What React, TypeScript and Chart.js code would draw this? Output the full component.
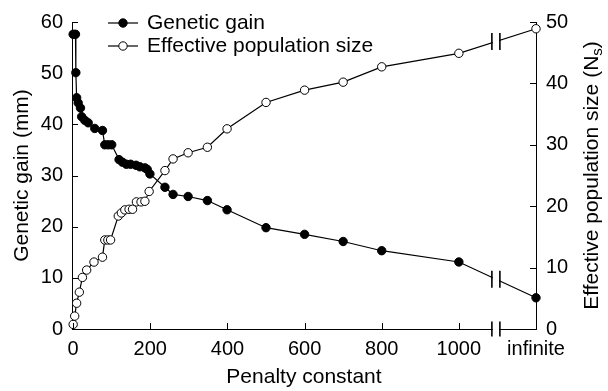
import React, { useEffect, useRef } from 'react';
import { Chart, registerables } from 'chart.js';

Chart.register(...registerables);

const FONT = "'Liberation Sans', Arial, Helvetica, sans-serif";

// x position used for the "infinite" penalty, and where the axis break sits
const INF = 1200;
const BREAK_AT = 1096;

const xTickValues = [0, 200, 400, 600, 800, 1000, INF];
const xTickLabels = ['0', '200', '400', '600', '800', '1000', 'infinite'];
const gainTicks = [0, 10, 20, 30, 40, 50, 60];
const nsTicks = [0, 10, 20, 30, 40, 50];

const seriesLabels = ['Genetic gain', 'Effective population size'];

const gainPenalty = [0, 6, 7, 9, 13, 19, 22, 30, 39, 56, 76, 82, 91, 100, 119, 128, 138, 149, 163, 173, 186, 192, 199, 238, 259, 298, 348, 399, 500, 600, 700, 800, 1000, INF];
const gainValues = [57.6, 57.6, 50.1, 45.2, 44.2, 43.2, 41.5, 40.8, 40.3, 39.2, 38.8, 36.0, 36.0, 36.0, 33.1, 32.6, 32.2, 32.2, 32.0, 31.7, 31.5, 31.2, 30.3, 27.7, 26.3, 25.9, 25.1, 23.3, 19.8, 18.5, 17.1, 15.3, 13.1, 6.1];

const nsPenalty = [0, 4, 9, 16, 24, 35, 54, 76, 82, 90, 97, 117, 125, 134, 145, 154, 164, 176, 186, 197, 238, 259, 298, 348, 399, 500, 600, 700, 800, 1000, INF];
const nsValues = [0.75, 2.1, 4.2, 6.0, 8.4, 9.6, 10.9, 11.7, 14.5, 14.5, 14.5, 18.4, 18.9, 19.4, 19.5, 19.5, 20.7, 20.7, 20.8, 22.4, 25.8, 27.7, 28.7, 29.6, 32.6, 36.9, 38.9, 40.2, 42.7, 44.9, 48.9];

const TITLE_SIZE = 21;
const MARKER_R = 4.2;

const decorPlugin = {
  id: 'decor',
  afterDatasetsDraw(chart: any) {
    const ctx = chart.ctx as CanvasRenderingContext2D;
    const xs = chart.scales.x;
    const yl = chart.scales.y;
    const yr = chart.scales.y1;
    const { left, right, top, bottom } = chart.chartArea;
    ctx.save();
    ctx.strokeStyle = '#000';
    ctx.lineWidth = 1;
    // inward tick marks
    ctx.beginPath();
    xTickValues.forEach((v) => {
      if (v === INF) return;
      const px = Math.round(xs.getPixelForValue(v)) + 0.5;
      ctx.moveTo(px, bottom);
      ctx.lineTo(px, bottom - 6);
    });
    gainTicks.forEach((v) => {
      const py = Math.round(yl.getPixelForValue(v)) + 0.5;
      ctx.moveTo(left, py);
      ctx.lineTo(left + 6, py);
    });
    nsTicks.forEach((v) => {
      const py = Math.round(yr.getPixelForValue(v)) + 0.5;
      ctx.moveTo(right, py);
      ctx.lineTo(right - 6, py);
    });
    ctx.stroke();

    // axis breaks
    const bx = xs.getPixelForValue(BREAK_AT);
    const g = 4;
    const drawBreak = (cy: number, h: number) => {
      ctx.fillStyle = '#fff';
      ctx.fillRect(bx - g + 0.8, cy - h, 2 * g - 1.6, 2 * h);
      ctx.lineWidth = 1.6;
      ctx.beginPath();
      ctx.moveTo(bx - g, cy - h);
      ctx.lineTo(bx - g, cy + h);
      ctx.moveTo(bx + g, cy - h);
      ctx.lineTo(bx + g, cy + h);
      ctx.stroke();
    };
    chart.data.datasets.forEach((_ds: any, i: number) => {
      const pts = chart.getDatasetMeta(i).data;
      const a = pts[pts.length - 2];
      const b = pts[pts.length - 1];
      const t = (bx - a.x) / (b.x - a.x);
      drawBreak(a.y + t * (b.y - a.y), 8.5);
    });
    drawBreak(bottom, 7.5);

    // legend
    const rows = [
      { y: 23, fill: '#000', text: seriesLabels[0] },
      { y: 46, fill: '#fff', text: seriesLabels[1] },
    ];
    rows.forEach((r) => {
      ctx.lineWidth = 1.2;
      ctx.strokeStyle = '#000';
      ctx.beginPath();
      ctx.moveTo(108, r.y);
      ctx.lineTo(138, r.y);
      ctx.stroke();
      ctx.beginPath();
      ctx.arc(123, r.y, MARKER_R, 0, Math.PI * 2);
      ctx.fillStyle = r.fill;
      ctx.fill();
      ctx.lineWidth = 1;
      ctx.stroke();
      ctx.fillStyle = '#000';
      ctx.font = `${TITLE_SIZE}px ${FONT}`;
      ctx.textAlign = 'left';
      ctx.textBaseline = 'middle';
      ctx.fillText(r.text, 147, r.y);
    });

    // right axis title with subscript
    const mainText = 'Effective population size (N';
    const subText = 's';
    const closeText = ')';
    ctx.translate(590, (top + bottom) / 2);
    ctx.rotate(-Math.PI / 2);
    ctx.textAlign = 'left';
    ctx.textBaseline = 'alphabetic';
    ctx.font = `${TITLE_SIZE}px ${FONT}`;
    const wMain = ctx.measureText(mainText).width;
    const wClose = ctx.measureText(closeText).width;
    ctx.font = `15px ${FONT}`;
    const wSub = ctx.measureText(subText).width;
    const sx = -(wMain + wSub + wClose) / 2;
    ctx.font = `${TITLE_SIZE}px ${FONT}`;
    ctx.fillText(mainText, sx, 7.5);
    ctx.font = `15px ${FONT}`;
    ctx.fillText(subText, sx + wMain, 11.5);
    ctx.font = `${TITLE_SIZE}px ${FONT}`;
    ctx.fillText(closeText, sx + wMain + wSub, 7.5);
    ctx.restore();
  },
};

export default function App() {
  const canvasRef = useRef<HTMLCanvasElement | null>(null);

  useEffect(() => {
    const canvas = canvasRef.current;
    if (!canvas) return;
    const font = { family: FONT, size: 20 };
    const titleFont = { family: FONT, size: TITLE_SIZE };
    const chart = new Chart(canvas, {
      type: 'line',
      data: {
        datasets: [
          {
            label: seriesLabels[0],
            data: gainPenalty.map((x, i) => ({ x, y: gainValues[i] })),
            yAxisID: 'y',
            borderColor: '#000',
            borderWidth: 1.2,
            pointRadius: MARKER_R,
            pointBackgroundColor: '#000',
            pointBorderColor: '#000',
            pointBorderWidth: 1,
            fill: false,
            tension: 0,
            clip: false,
          },
          {
            label: seriesLabels[1],
            data: nsPenalty.map((x, i) => ({ x, y: nsValues[i] })),
            yAxisID: 'y1',
            borderColor: '#000',
            borderWidth: 1.2,
            pointRadius: MARKER_R,
            pointBackgroundColor: '#fff',
            pointBorderColor: '#000',
            pointBorderWidth: 1,
            fill: false,
            tension: 0,
            clip: false,
          },
        ],
      },
      options: {
        responsive: false,
        animation: false,
        devicePixelRatio: 1,
        layout: { padding: { top: 17, left: 0, right: 0, bottom: 0 } },
        plugins: { legend: { display: false }, tooltip: { enabled: false } },
        scales: {
          x: {
            type: 'linear',
            min: -3,
            max: INF,
            afterBuildTicks: (s: any) => {
              s.ticks = xTickValues.map((v) => ({ value: v }));
            },
            afterFit: (s: any) => {
              s.height = 62;
            },
            ticks: {
              callback: (v: any) => {
                const i = xTickValues.indexOf(Number(v));
                return i >= 0 ? xTickLabels[i] : '';
              },
              padding: 8,
              maxRotation: 0,
              autoSkip: false,
              color: '#000',
              font,
            },
            grid: { display: false, drawTicks: false },
            border: { display: true, color: '#000', width: 1 },
            title: {
              display: true,
              text: 'Penalty constant',
              color: '#000',
              font: titleFont,
              padding: { top: 0, bottom: 1 },
            },
          },
          y: {
            type: 'linear',
            position: 'left',
            min: 0,
            max: 60,
            afterFit: (s: any) => {
              s.width = 72;
            },
            ticks: { stepSize: 10, padding: 9, color: '#000', font },
            grid: { display: false, drawTicks: false },
            border: { display: true, color: '#000', width: 1 },
            title: {
              display: true,
              text: 'Genetic gain (mm)',
              color: '#000',
              font: titleFont,
              padding: { top: 10, bottom: 0 },
            },
          },
          y1: {
            type: 'linear',
            position: 'right',
            min: 0,
            max: 50,
            afterFit: (s: any) => {
              s.width = 72;
            },
            ticks: { stepSize: 10, padding: 10, color: '#000', font },
            grid: { display: false, drawTicks: false },
            border: { display: true, color: '#000', width: 1 },
            title: { display: false },
          },
        },
      },
      plugins: [decorPlugin],
    } as any);
    return () => chart.destroy();
  }, []);

  return (
    <div style={{ position: 'fixed', left: 0, top: 0, width: 608, height: 391, background: '#fff' }}>
      <canvas ref={canvasRef} width={608} height={391} style={{ width: 608, height: 391, display: 'block' }} />
    </div>
  );
}
